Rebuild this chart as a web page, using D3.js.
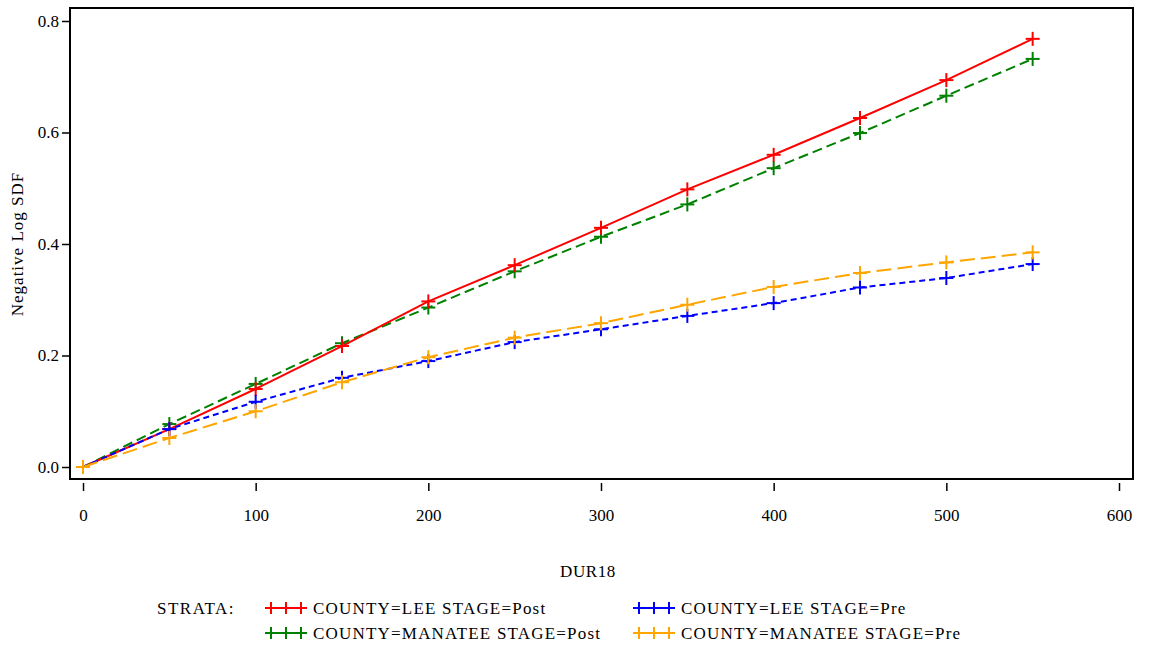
<!DOCTYPE html>
<html>
<head>
<meta charset="UTF-8">
<title>Negative Log SDF</title>
<script src="https://d3js.org/d3.v7.min.js"></script>
<style>
  body { margin: 0; background: #fff; }
  svg text { font-family: 'Liberation Serif', 'Times New Roman', serif; fill: #000; }
</style>
</head>
<body>
<svg id="chart" width="1149" height="647"></svg>
<script>
// data
var dur = [0, 50, 100, 150, 200, 250, 300, 350, 400, 450, 500, 550];
var leePost     = [0, 0.068, 0.140, 0.217, 0.297, 0.362, 0.429, 0.498, 0.560, 0.626, 0.694, 0.768];
var manateePost = [0, 0.077, 0.149, 0.222, 0.286, 0.351, 0.413, 0.471, 0.536, 0.599, 0.666, 0.732];
var leePre      = [0, 0.068, 0.117, 0.160, 0.190, 0.224, 0.247, 0.271, 0.294, 0.322, 0.339, 0.364];
var manateePre  = [0, 0.052, 0.100, 0.152, 0.197, 0.232, 0.258, 0.291, 0.323, 0.348, 0.367, 0.385];
var xTicks = [0, 100, 200, 300, 400, 500, 600];
var yTicks = [0, 0.2, 0.4, 0.6, 0.8];

var series = [
  {name: "COUNTY=LEE STAGE=Post",     vals: leePost,     color: "#ff0000", dash: null},
  {name: "COUNTY=LEE STAGE=Pre",      vals: leePre,      color: "#0000ff", dash: "6,4"},
  {name: "COUNTY=MANATEE STAGE=Post", vals: manateePost, color: "#008000", dash: "10,5"},
  {name: "COUNTY=MANATEE STAGE=Pre",  vals: manateePre,  color: "#ffa500", dash: "15,6"}
];

var svg = d3.select("#chart");

var x = d3.scaleLinear().domain([0, 600]).range([83, 1119]);
var y = d3.scaleLinear().domain([0, 0.8]).range([467, 21]);

// frame
svg.append("rect")
  .attr("x", 70).attr("y", 8)
  .attr("width", 1063).attr("height", 471)
  .attr("fill", "none").attr("stroke", "#000").attr("stroke-width", 2);

// x axis
var xAxis = d3.axisBottom(x).tickValues(xTicks).tickSize(8).tickPadding(18)
  .tickFormat(d3.format("d"));
var gx = svg.append("g").attr("transform", "translate(0,483)").call(xAxis)
  .attr("font-family", null).attr("font-size", null);
gx.select(".domain").remove();
gx.selectAll("line").attr("stroke", "#000").attr("stroke-width", 1.5);
gx.selectAll("text").attr("font-size", 17);

// y axis
var yAxis = d3.axisLeft(y).tickValues(yTicks).tickSize(8).tickPadding(3)
  .tickFormat(d3.format(".1f"));
var gy = svg.append("g").attr("transform", "translate(70,0)").call(yAxis)
  .attr("font-family", null).attr("font-size", null);
gy.select(".domain").remove();
gy.selectAll("line").attr("stroke", "#000").attr("stroke-width", 1.5);
gy.selectAll("text").attr("font-size", 17);

// axis titles
svg.append("text").attr("x", 588).attr("y", 577)
  .attr("text-anchor", "middle").attr("font-size", 17).attr("letter-spacing", 0.6)
  .text("DUR18");
svg.append("text")
  .attr("transform", "translate(23,244) rotate(-90)")
  .attr("text-anchor", "middle").attr("font-size", 17).attr("letter-spacing", 1)
  .text("Negative Log SDF");

var line = d3.line()
  .x(function(d, i) { return x(dur[i]); })
  .y(function(d) { return y(d); });

function plus(g, cx, cy, color, s) {
  g.append("line").attr("x1", cx - s).attr("x2", cx + s).attr("y1", cy).attr("y2", cy)
    .attr("stroke", color).attr("stroke-width", 2);
  g.append("line").attr("x1", cx).attr("x2", cx).attr("y1", cy - s).attr("y2", cy + s)
    .attr("stroke", color).attr("stroke-width", 2);
}

var plotOrder = [series[2], series[0], series[1], series[3]];
plotOrder.forEach(function(s) {
  var g = svg.append("g");
  g.append("path").datum(s.vals)
    .attr("d", line)
    .attr("fill", "none")
    .attr("stroke", s.color)
    .attr("stroke-width", 2)
    .attr("stroke-dasharray", s.dash);
  s.vals.forEach(function(v, i) {
    plus(g, x(dur[i]), y(v), s.color, 7);
  });
});

// legend
svg.append("text").attr("x", 157).attr("y", 614).attr("font-size", 17)
  .attr("letter-spacing", 1.5).text("STRATA:");
var legPos = [[266, 608], [634, 608], [266, 633], [634, 633]];
series.forEach(function(s, i) {
  var lx = legPos[i][0], ly = legPos[i][1];
  var g = svg.append("g");
  g.append("line").attr("x1", lx).attr("x2", lx + 40).attr("y1", ly).attr("y2", ly)
    .attr("stroke", s.color).attr("stroke-width", 2);
  [5, 20, 35].forEach(function(o) { plus(g, lx + o, ly, s.color, 6); });
  g.append("text").attr("x", lx + 47).attr("y", ly + 6).attr("font-size", 17)
    .attr("letter-spacing", 1.2).text(s.name);
});
</script>
</body>
</html>
